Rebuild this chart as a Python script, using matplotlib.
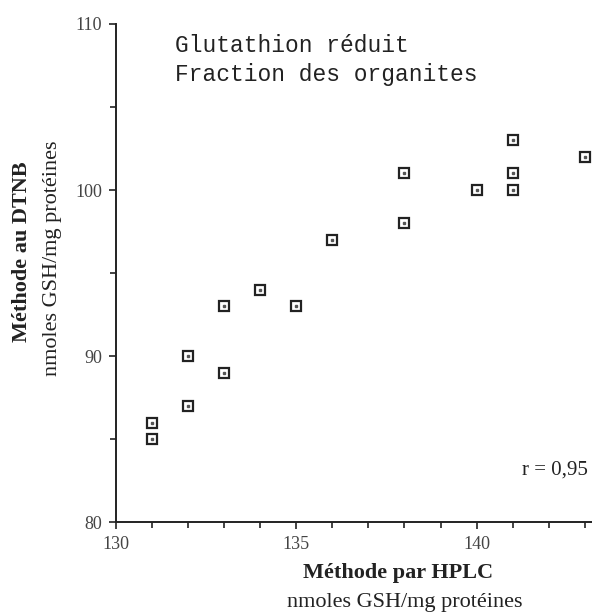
import numpy as np
import matplotlib
matplotlib.use('Agg')
import matplotlib.pyplot as plt
from matplotlib.ticker import MultipleLocator

#-- data
hplc = [131, 131, 132, 132, 133, 133, 134, 135, 136, 138, 138, 140, 141, 141, 141, 143]
dtnb = [86, 85, 90, 87, 93, 89, 94, 93, 97, 101, 98, 100, 103, 101, 100, 102]
xticks = [130, 135, 140]
yticks = [80, 90, 100, 110]

serif = 'Liberation Serif'
mono = 'Liberation Mono'
ink = '#222222'

fig = plt.figure(figsize=(5.92, 6.15), dpi=100)
ax = fig.add_axes([0.196, 0.151, 0.804, 0.810])

#-- open squares with a dot inside
ax.plot(hplc, dtnb, 's', ms=6.5, mfc='white', mec=ink, mew=1.6, ls='none', clip_on=False)
ax.plot(hplc, dtnb, 's', ms=1.5, mfc='#555555', mec='#555555', ls='none', clip_on=False)

ax.set_xlim(130, 143.2)
ax.set_ylim(80, 110)
ax.set_xticks(xticks)
ax.set_yticks(yticks)
ax.xaxis.set_minor_locator(MultipleLocator(1))
ax.yaxis.set_minor_locator(MultipleLocator(5))
ax.tick_params(which='both', direction='out', color=ink, width=1.2)
ax.tick_params(which='major', length=5, labelsize=13, pad=5)
ax.tick_params(which='minor', length=4)
for lab in ax.get_xticklabels() + ax.get_yticklabels():
    lab.set_family(serif)
    lab.set_color('#444444')

for s in ['top', 'right']:
    ax.spines[s].set_visible(False)
for s in ['left', 'bottom']:
    ax.spines[s].set_linewidth(1.4)
    ax.spines[s].set_color(ink)

#-- titles inside the frame
fig.text(175 / 592, 1 - 45 / 615, 'Glutathion réduit', family=mono, fontsize=16.5,
         color=ink, va='center', ha='left')
fig.text(175 / 592, 1 - 75 / 615, 'Fraction des organites', family=mono, fontsize=16.5,
         color=ink, va='center', ha='left')
fig.text(588 / 592, 1 - 470 / 615, 'r = 0,95', family=serif, fontsize=15,
         color=ink, va='center', ha='right')

#-- axis labels (two lines each, bold first line)
fig.text(22 / 592, 1 - 252 / 615, 'Méthode au DTNB', family=serif, fontsize=16,
         fontweight='bold', rotation=90, va='center', ha='center', color=ink)
fig.text(53 / 592, 1 - 258 / 615, 'nmoles GSH/mg protéines', family=serif, fontsize=16,
         rotation=90, va='center', ha='center', color=ink)
fig.text(398 / 592, 1 - 573 / 615, 'Méthode par HPLC', family=serif, fontsize=16,
         fontweight='bold', va='center', ha='center', color=ink)
fig.text(405 / 592, 1 - 602 / 615, 'nmoles GSH/mg protéines', family=serif, fontsize=16,
         va='center', ha='center', color=ink)

fig.savefig('out.png', dpi=100)
